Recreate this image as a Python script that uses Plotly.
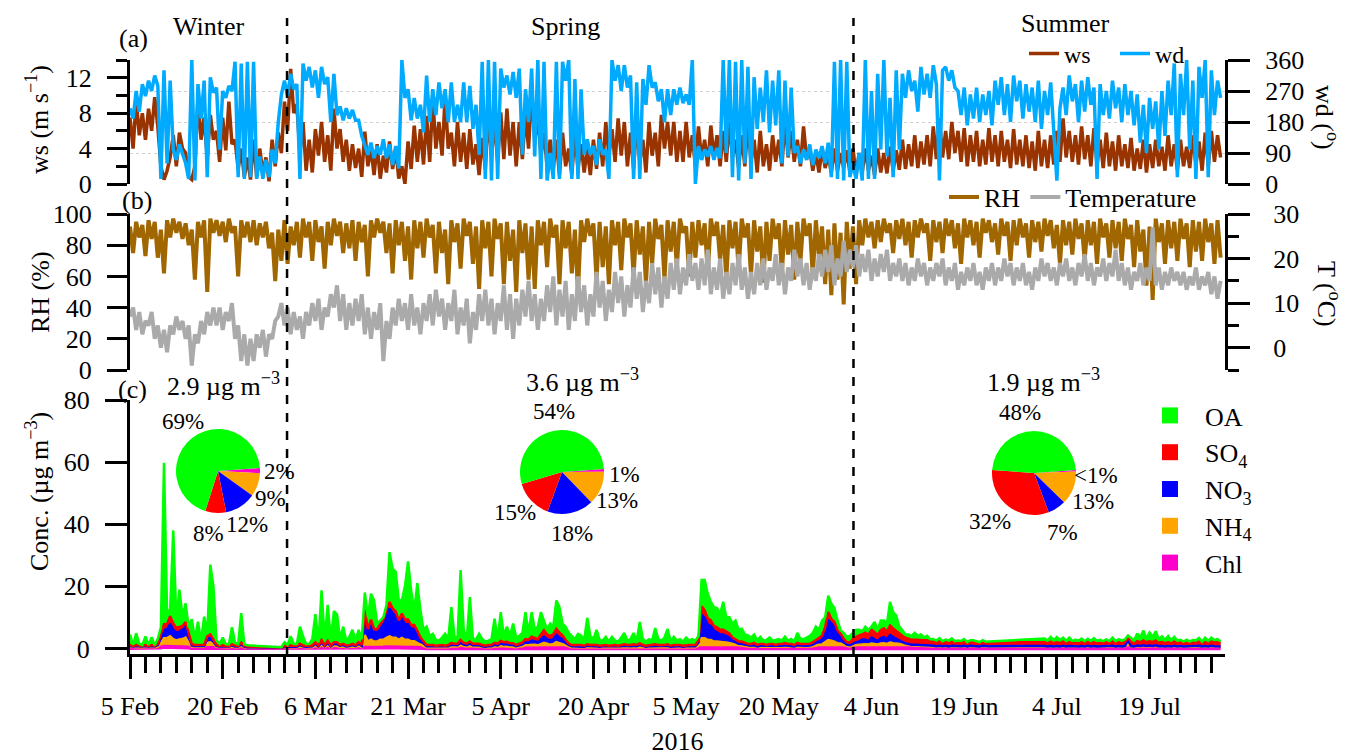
import pandas as pd
import plotly.graph_objects as go

# ---------------- data (12-hourly, from 5 Feb 2016 00:00) ----------------
start_time = '2016-02-05 00:00'
n_points = 354

ws = [
 7.5,4.0, 9.5,5.5, 8.0,5.0, 8.5,6.0, 9.8,6.5, 2.0,0.5, 1.5,3.0, 5.5,2.0, 5.8,4.0, 3.5,0.8,
 0.5,2.0, 9.7,5.0, 7.5,3.0, 7.8,5.0, 6.0,2.5, 7.5,3.8, 9.3,4.5, 5.0,1.7, 4.0,0.8, 3.0,0.5,
 5.0,0.8, 4.0,1.2, 3.0,0.3, 5.0,2.0, 5.8,3.5, 9.3,6.0, 13.0,8.0, 9.0,3.5, 7.0,1.5, 5.0,1.3,
 6.2,3.2, 7.0,2.5, 5.5,1.5, 8.5,4.0, 6.2,2.5, 5.0,1.5, 4.5,1.8, 4.0,0.8, 5.9,2.0, 4.0,1.0,
 4.5,0.6, 3.2,1.3, 4.8,1.7, 4.0,0.6, 2.0,0.0, 4.8,1.7, 6.6,2.5, 6.2,2.2, 7.7,2.5, 9.7,4.0,
 7.0,3.2, 9.8,4.0, 5.8,2.0, 7.0,2.5, 5.8,1.7, 6.2,2.2, 4.5,1.0, 5.2,1.7, 7.8,3.2, 7.0,2.5,
 8.1,2.8, 8.5,3.2, 7.0,2.0, 7.0,2.8, 8.0,4.0, 10.6,5.0, 7.5,3.2, 5.8,2.0, 5.0,1.7, 5.0,1.0,
 5.8,2.0, 4.0,1.0, 5.8,1.7, 4.5,1.3, 4.0,1.0, 5.0,1.7, 5.8,2.0, 7.0,3.2, 6.2,2.5, 7.4,3.2,
 7.0,2.0, 5.8,1.7, 7.0,2.5, 5.0,1.3, 7.0,3.2, 5.8,2.0, 7.8,4.0, 7.0,3.2, 7.0,2.5, 6.0,2.5,
 7.0,3.0, 5.5,2.0, 6.5,2.8, 5.0,2.0, 6.6,3.0, 5.5,2.0, 6.0,2.5, 7.0,3.0, 5.0,1.8, 5.5,2.0,
 7.0,2.5, 5.0,1.3, 6.0,2.0, 4.5,1.5, 5.5,2.5, 5.0,2.0, 7.2,3.0, 6.0,2.5, 5.0,2.0, 6.5,2.8,
 4.0,1.5, 3.5,1.3, 4.0,1.8, 3.2,1.3, 4.0,1.5, 3.5,1.8, 3.8,1.3, 4.0,1.0, 3.5,1.3, 4.0,1.5,
 3.2,1.0, 4.0,1.3, 3.5,1.2, 4.2,1.5, 3.8,1.6, 5.0,1.7, 4.5,2.0, 5.5,1.8, 4.8,2.2, 5.5,2.0,
 6.5,2.8, 7.4,3.0, 6.0,2.8, 7.0,3.5, 6.0,2.5, 6.3,2.0, 5.5,2.5, 6.0,2.0, 5.0,2.2, 6.3,2.5,
 5.5,2.0, 6.0,2.5, 5.0,1.8, 6.2,2.2, 5.0,2.0, 5.5,1.8, 4.8,1.5, 6.0,2.0, 5.0,1.8, 5.5,2.2,
 6.0,2.5, 7.4,3.0, 6.0,2.5, 5.5,2.2, 6.5,2.8, 5.5,2.0, 6.3,2.2, 5.0,1.8, 5.8,2.0, 4.8,1.5,
 5.5,2.0, 4.5,1.8, 5.2,1.5, 4.0,1.7, 5.0,1.3, 4.5,1.8, 5.0,2.0, 4.2,1.5, 5.5,2.0, 4.5,1.6,
 5.0,2.0, 4.2,1.8, 5.5,2.2, 4.8,1.5, 5.8,2.0, 6.0,2.5, 5.5,3.0,
]

wd = [
 220,190, 270,210, 290,255, 300,270, 315,285, 15,330, 60,300, 100,70, 115,85, 60,15,
 360,10, 290,190, 300,20, 310,265, 280,100, 270,250, 285,270, 355,20, 350,15, 355,20,
 355,15, 80,15, 70,20, 100,60, 180,260, 300,255, 320,275, 290,15, 350,300, 340,280,
 330,250, 340,290, 310,180, 320,200, 225,185, 220,190, 215,185, 185,140, 115,85, 120,75,
 110,85, 130,75, 115,55, 110,45, 360,250, 275,185, 250,190, 230,150, 315,180, 275,200,
 295,220, 275,180, 295,180, 230,180, 295,180, 285,160, 230,85, 355,15, 360,10, 355,15,
 335,280, 315,260, 325,250, 335,85, 275,180, 335,80, 360,15, 355,10, 90,15, 355,15,
 355,300, 360,15, 305,15, 275,85, 130,85, 110,55, 130,85, 100,15, 360,300, 345,270,
 345,280, 315,15, 295,15, 305,230, 345,280, 295,240, 275,180, 275,200, 275,230, 280,235,
 260,230, 360,0, 110,70, 100,80, 110,70, 105,75, 360,90, 360,20, 355,10, 360,60,
 340,15, 310,160, 280,180, 330,150, 300,170, 330,60, 300,80, 280,90, 110,60, 100,70,
 115,55, 100,75, 110,60, 120,20, 355,15, 360,10, 355,20, 60,15, 90,10, 360,15,
 270,15, 320,100, 360,80, 250,20, 330,100, 320,250, 330,270, 300,210, 340,260, 320,250,
 345,290, 10,330, 340,300, 330,280, 270,200, 280,170, 260,190, 280,180, 260,200, 270,170,
 300,230, 310,200, 290,180, 315,240, 300,190, 290,210, 280,180, 300,160, 270,200, 295,170,
 10,220, 280,200, 315,240, 290,180, 300,210, 310,230, 280,15, 290,200, 270,190, 300,220,
 280,180, 290,200, 270,170, 260,120, 230,90, 250,160, 240,100, 270,140, 300,200, 350,20,
 320,200, 360,100, 300,15, 340,250, 360,20, 330,200, 300,250,
]

rh = [
 92,75, 95,85, 93,73, 96,84, 95,72, 90,62, 96,85, 97,88, 95,84, 94,80,
 90,58, 95,85, 96,50, 97,88, 96,86, 95,82, 97,88, 92,60, 96,85, 95,82,
 96,80, 94,85, 95,78, 88,57, 90,70, 96,68, 92,80, 95,72, 97,85, 95,70,
 96,82, 92,65, 95,80, 97,86, 95,75, 94,78, 96,70, 95,82, 93,60, 96,85,
 97,88, 95,75, 94,62, 96,80, 95,70, 92,58, 96,78, 95,72, 97,85, 93,62,
 95,75, 90,55, 96,82, 94,65, 97,86, 95,68, 92,52, 96,78, 95,60, 97,84,
 94,55, 95,70, 90,50, 96,75, 94,58, 92,52, 96,80, 95,66, 97,85, 93,55,
 96,78, 95,62, 90,50, 96,82, 97,86, 94,58, 95,66, 92,55, 96,80, 95,64,
 97,85, 94,60, 96,74, 92,55, 95,68, 97,84, 93,58, 96,76, 95,66, 97,88,
 92,60, 95,72, 96,80, 94,62, 97,86, 95,70, 93,58, 96,78, 95,64, 97,85,
 94,60, 96,76, 92,56, 95,70, 97,84, 94,62, 96,74, 93,58, 95,70, 97,86,
 94,60, 96,72, 92,55, 90,48, 94,58, 88,42, 95,65, 92,55, 96,80, 97,85,
 95,78, 96,82, 97,88, 94,75, 96,84, 97,80, 95,72, 96,85, 97,88, 94,70,
 96,82, 95,75, 97,86, 96,78, 94,68, 97,85, 96,80, 95,72, 97,88, 96,82,
 94,74, 97,86, 95,70, 96,80, 97,85, 94,72, 96,82, 95,76, 97,86, 96,78,
 93,68, 96,80, 95,74, 97,84, 94,70, 96,80, 95,68, 97,85, 94,72, 96,78,
 95,70, 97,84, 93,66, 96,76, 90,54, 92,45, 97,82, 94,68, 96,78, 95,70,
 97,84, 94,66, 96,76, 95,70, 97,82, 94,68, 96,72,
]

temperature = [
 7,9, 4,8, 3,6, 5,8, 2,5, 0,4, -1,5, 3,7, 4,6, 2,5,
 -4,3, 1,6, 3,8, 5,9, 5,9, 4,8, 6,10, 2,5, -3,3, -4,2,
 -3,3, 0,4, -2,3, 2,6, 7,10, 5,9, 3,8, 4,7, 2,8, 5,10,
 6,11, 4,9, 7,12, 9,14, 6,12, 4,10, 5,11, 6,12, 3,9, 2,8,
 4,10, -3,6, 2,9, 5,11, 6,10, 4,12, 5,9, 3,10, 6,12, 5,13,
 7,11, 4,10, 6,13, 3,9, 5,11, 1,8, 4,12, 6,13, 5,11, 3,10,
 6,14, 4,12, 2,11, 5,13, 7,15, 6,12, 4,11, 6,14, 8,16, 5,13,
 7,15, 4,12, 6,16, 8,14, 5,12, 7,17, 9,15, 6,13, 8,17, 10,16,
 7,14, 9,18, 11,17, 8,15, 10,19, 12,18, 9,16, 11,19, 13,20, 12,18,
 14,21, 15,19, 13,20, 14,22, 12,18, 13,20, 11,17, 12,19, 14,21, 13,18,
 11,17, 12,19, 14,20, 13,18, 15,21, 14,19, 12,18, 15,22, 16,20, 14,19,
 13,18, 15,21, 16,22, 17,23, 14,20, 16,24, 17,22, 18,23, 16,21, 17,22,
 15,20, 16,21, 17,22, 15,19, 16,20, 15,19, 14,18, 15,20, 16,19, 14,18,
 15,19, 16,20, 14,18, 15,19, 13,17, 14,18, 15,19, 14,17, 13,18, 15,19,
 14,18, 15,20, 16,19, 14,18, 15,19, 14,17, 13,18, 15,20, 16,19, 15,18,
 14,19, 16,20, 15,18, 14,19, 16,21, 15,19, 14,18, 16,20, 15,19, 16,22,
 15,19, 14,18, 13,17, 15,19, 14,18, 15,27, 14,18, 13,17, 14,18, 15,17,
 14,17, 13,16, 14,18, 13,16, 14,17, 12,16, 11,15,
]

N = None
oa = [
 3.4,0.3, 3.8,0.6, 0.3,2.8, 0.3,2.5, 0.2,1.6, 2.5,52.0, 4.0,2.0, 30.0,3.0, 12.0,3.0, 6.0,2.0,
 8.0,2.0, 7.5,1.5, 9.0,1.2, 22.5,17.2, 1.5,0.6, 2.5,0.6, 0.5,5.5, 1.0,0.6, 9.5,0.5, 0.4,N,
 N,N, N,N, N,N, N,N, N,0.1, 1.2,0.4, 3.0,0.6, 0.6,5.5, 3.0,0.6, 0.6,2.0,
 9.0,1.0, 16.0,2.0, 11.5,2.0, 10.0,9.0, 1.8,5.5, 1.5,2.7, 4.5,1.5, 4.0,1.8, 5.7,3.8, 8.3,9.3,
 1.8,1.0, 0.7,1.6, 16.1,12.8, 12.8,6.5, 4.3,10.7, 18.7,11.2, 4.5,15.3, 8.8,3.7, 5.9,2.9, 3.6,1.9,
 1.4,2.4, 3.9,1.9, 11.5,2.5, 1.5,22.5, 4.2,1.5, 14.3,1.5, 1.5,3.2, 1.9,1.4, 1.4,1.9, 7.8,1.5,
 9.3,2.0, 4.9,2.3, 6.3,2.4, 2.5,3.1, 8.7,2.2, 7.9,2.5, 4.0,7.2, 3.2,1.5, 4.0,2.5, 9.2,8.2,
 3.8,4.3, 3.4,2.9, 1.9,3.6, 3.1,1.9, 8.5,2.9, 1.9,4.9, 1.9,1.4, 2.6,1.4, 2.6,1.4, 1.4,2.4,
 3.6,1.4, 1.9,3.6, 1.4,6.9, 1.9,1.4, 1.9,1.4, 5.2,1.9, 1.4,2.4, 4.9,1.4, 2.6,1.4, 1.9,1.4,
 2.4,1.4, 1.9,1.4, 1.3,8.4, 9.7,7.9, 6.0,6.1, 6.2,5.0, 9.0,4.5, 5.2,4.5, 6.2,3.7, 4.1,2.6,
 2.75,2.05, 2.75,1.55, 2.25,1.05, 1.55,2.05, 1.05,1.55, 1.55,1.05, 2.05,1.05, 1.55,1.05, 3.25,1.55, 1.55,2.05,
 2.5,3.0, 4.2,2.4, 4.9,3.2, 5.3,4.9, 4.5,3.2, 1.0,1.9, 1.65,2.15, 1.95,2.25, 1.75,0.85, 1.95,1.75,
 0.95,3.25, 1.75,3.15, 2.55,2.55, 7.65,5.25, 5.05,2.25, 1.75,1.05, 1.35,1.25, 2.25,1.35, 1.8,0.9, 1.4,0.6,
 0.9,0.6, 1.0,0.4, 0.7,0.8, 1.1,0.4, 0.6,0.5, 0.9,0.3, 0.5,0.7, 0.4,0.3, 0.5,0.2, 0.3,N,
 N,N, N,N, N,N, N,N, N,N, N,N, N,N, N,N, 1.2,0.8, 1.6,0.9,
 1.7,1.0, 1.3,0.8, 1.5,0.7, 1.0,0.9, 1.2,0.6, 0.9,0.7, 1.3,0.8, 1.0,0.6, 0.9,0.7, 1.3,0.6,
 1.0,0.8, 0.9,0.5, 1.2,0.8, 2.5,1.5, 3.2,1.2, 2.8,1.6, 3.0,1.0, 1.8,1.0, 2.0,0.8, 1.5,0.9,
 0.8,0.5, 1.0,0.6, 0.7,0.9, 1.2,0.5, 1.5,0.7, 1.3,0.8, 1.0,0.6,
]

so4 = [
 0.3,0.2, 0.3,0.3, 0.2,0.3, 0.2,0.3, 0.2,0.4, 1.0,2.0, 1.5,2.5, 2.0,1.5, 1.5,1.2, 1.5,1.0,
 0.4,0.3, 0.3,0.3, 0.4,0.8, 1.0,0.6, 0.3,0.2, 0.3,0.2, 0.2,0.4, 0.3,0.2, 0.6,0.2, 0.2,N,
 N,N, N,N, N,N, N,N, N,0.1, 0.2,0.2, 0.3,0.3, 0.3,0.4, 0.3,0.3, 0.3,0.3,
 0.5,0.3, 0.8,0.3, 0.7,0.3, 0.6,0.6, 0.3,0.4, 0.3,0.3, 0.4,0.3, 0.5,0.3, 2.0,1.0, 1.5,1.0,
 1.0,1.2, 1.5,2.0, 2.0,1.5, 1.5,1.2, 1.8,1.5, 1.5,1.2, 1.2,1.0, 0.8,0.6, 0.4,0.4, 0.4,0.3,
 0.4,0.4, 0.3,0.4, 0.6,0.5, 0.5,0.9, 0.6,0.5, 0.7,0.5, 0.5,0.5, 0.4,0.3, 0.4,0.4, 0.6,0.5,
 0.8,0.7, 0.7,0.6, 0.6,0.4, 0.5,0.6, 1.0,0.9, 1.2,1.1, 1.0,1.5, 2.0,1.5, 1.4,1.5, 2.0,1.6,
 1.3,0.9, 0.5,0.4, 0.4,0.4, 0.4,0.3, 0.5,0.4, 0.4,0.4, 0.3,0.4, 0.4,0.3, 0.4,0.4, 0.3,0.4,
 0.5,0.4, 0.4,0.5, 0.4,0.6, 0.4,0.3, 0.4,0.4, 0.5,0.4, 0.4,0.4, 0.5,0.3, 0.4,0.4, 0.4,0.3,
 0.4,0.4, 0.4,0.4, 0.8,2.8, 2.5,2.0, 1.8,1.5, 1.6,1.5, 1.5,1.4, 1.3,1.0, 0.9,0.8, 0.8,0.7,
 0.6,0.6, 0.7,0.5, 0.6,0.6, 0.5,0.6, 0.6,0.5, 0.6,0.6, 0.7,0.6, 0.6,0.5, 0.7,0.6, 0.6,0.6,
 0.6,0.8, 1.0,1.2, 1.3,1.8, 2.5,1.5, 1.3,1.2, 1.2,1.0, 0.8,0.8, 1.5,1.8, 2.0,1.8, 2.2,2.0,
 2.5,2.3, 2.0,2.5, 2.8,2.5, 3.0,2.8, 2.5,2.2, 2.0,1.8, 1.8,1.6, 1.6,1.5, 1.6,1.5, 1.5,1.4,
 1.3,1.2, 1.4,1.2, 1.3,1.1, 1.3,1.2, 1.2,1.2, 1.3,1.1, 1.3,1.2, 1.2,1.1, 1.3,1.2, 1.2,N,
 N,N, N,N, N,N, N,N, N,N, N,N, N,N, N,N, 1.2,1.1, 1.3,1.1,
 1.2,1.1, 1.3,1.0, 1.2,1.1, 1.1,1.0, 1.2,1.1, 1.3,1.1, 1.2,1.0, 1.1,1.1, 1.2,1.0, 1.3,1.1,
 1.2,1.1, 1.2,1.0, 1.2,1.1, 1.4,1.2, 1.5,1.2, 1.4,1.3, 1.5,1.2, 1.3,1.1, 1.2,1.1, 1.3,1.0,
 1.2,1.1, 1.1,1.0, 1.2,1.1, 1.3,1.0, 1.2,1.1, 1.3,1.2, 1.2,1.1,
]

no3 = [
 0.3,0.2, 0.3,0.2, 0.2,0.3, 0.2,0.3, 0.2,0.5, 1.5,2.5, 3.0,4.0, 3.0,2.5, 2.5,3.0, 3.5,2.0,
 0.4,0.3, 0.3,0.3, 0.3,1.3, 1.5,0.8, 0.3,0.2, 0.2,0.2, 0.2,0.3, 0.2,0.2, 0.4,0.2, 0.1,N,
 N,N, N,N, N,N, N,N, N,0.05, 0.2,0.2, 0.3,0.2, 0.2,0.5, 0.3,0.2, 0.2,0.3,
 0.6,0.3, 0.8,0.3, 0.7,0.3, 0.5,0.6, 0.4,0.5, 0.3,0.3, 0.5,0.3, 0.6,0.4, 6.0,3.0, 5.0,3.0,
 3.0,4.0, 5.0,7.0, 9.0,8.0, 7.0,5.0, 6.0,5.0, 5.0,4.0, 4.0,3.0, 1.5,0.8, 0.3,0.3, 0.3,0.2,
 0.3,0.3, 0.2,0.3, 0.5,0.4, 0.4,0.8, 0.5,0.4, 0.7,0.4, 0.4,0.4, 0.3,0.2, 0.3,0.3, 0.5,0.4,
 0.8,0.6, 0.7,0.5, 0.5,0.3, 0.4,0.6, 0.9,0.8, 1.3,1.2, 1.0,1.5, 2.0,1.5, 1.4,1.6, 2.3,1.8,
 1.5,0.9, 0.5,0.3, 0.3,0.3, 0.3,0.2, 0.4,0.3, 0.3,0.3, 0.2,0.3, 0.3,0.2, 0.3,0.3, 0.2,0.3,
 0.4,0.3, 0.3,0.4, 0.3,0.5, 0.3,0.2, 0.3,0.3, 0.4,0.3, 0.3,0.3, 0.4,0.2, 0.3,0.3, 0.3,0.2,
 0.3,0.3, 0.3,0.3, 1.0,7.5, 6.5,5.0, 4.5,3.5, 3.0,2.5, 2.5,2.2, 1.8,1.2, 0.8,0.6, 0.5,0.4,
 0.3,0.3, 0.4,0.2, 0.3,0.3, 0.2,0.3, 0.3,0.2, 0.3,0.3, 0.4,0.3, 0.3,0.2, 0.4,0.3, 0.3,0.3,
 0.3,0.5, 0.8,1.2, 1.5,3.0, 6.5,5.5, 5.0,3.0, 2.0,1.0, 0.5,0.4, 0.5,0.8, 1.0,1.5, 1.5,1.0,
 2.0,1.5, 1.0,1.8, 2.0,1.5, 2.5,2.0, 1.5,1.2, 0.8,0.6, 0.4,0.3, 0.3,0.3, 0.3,0.3, 0.3,0.2,
 0.2,0.15, 0.2,0.15, 0.2,0.1, 0.2,0.15, 0.15,0.15, 0.2,0.1, 0.2,0.15, 0.15,0.1, 0.2,0.15, 0.15,N,
 N,N, N,N, N,N, N,N, N,N, N,N, N,N, N,N, 0.15,0.1, 0.15,0.1,
 0.15,0.1, 0.2,0.1, 0.15,0.1, 0.1,0.1, 0.15,0.1, 0.2,0.1, 0.15,0.1, 0.1,0.1, 0.15,0.1, 0.2,0.1,
 0.15,0.1, 0.15,0.1, 0.15,0.1, 0.2,0.15, 0.25,0.15, 0.2,0.15, 0.25,0.1, 0.15,0.1, 0.15,0.1, 0.2,0.1,
 0.15,0.1, 0.1,0.1, 0.15,0.1, 0.2,0.1, 0.15,0.1, 0.2,0.15, 0.15,0.1,
]

nh4 = [
 0.4,0.3, 0.4,0.3, 0.3,0.4, 0.3,0.4, 0.3,0.5, 1.5,2.8, 2.8,3.3, 2.5,2.2, 2.5,2.5, 3.0,1.5,
 0.5,0.4, 0.4,0.4, 0.4,1.5, 1.7,1.2, 0.4,0.3, 0.4,0.3, 0.3,0.5, 0.3,0.3, 0.8,0.3, 0.2,N,
 N,N, N,N, N,N, N,N, N,0.1, 0.3,0.3, 0.3,0.3, 0.3,0.5, 0.3,0.3, 0.3,0.3,
 0.8,0.3, 1.0,0.4, 1.0,0.3, 0.8,0.7, 0.4,0.5, 0.3,0.4, 0.5,0.4, 0.8,0.4, 4.0,2.0, 2.5,2.0,
 2.0,2.5, 2.5,3.0, 3.5,3.0, 3.0,2.5, 3.0,2.5, 2.5,2.0, 2.0,1.5, 1.0,0.8, 0.35,0.35, 0.35,0.3,
 0.35,0.35, 0.3,0.35, 0.6,0.5, 0.5,0.9, 0.6,0.5, 0.7,0.5, 0.5,0.5, 0.35,0.3, 0.35,0.35, 0.6,0.5,
 0.7,0.6, 0.6,0.5, 0.5,0.35, 0.5,0.6, 1.0,1.0, 1.2,1.1, 0.9,1.4, 1.6,1.4, 1.1,1.3, 1.8,1.6,
 1.3,0.8, 0.5,0.35, 0.35,0.35, 0.35,0.3, 0.4,0.35, 0.35,0.35, 0.3,0.35, 0.35,0.3, 0.35,0.35, 0.3,0.35,
 0.4,0.35, 0.35,0.4, 0.35,0.5, 0.35,0.3, 0.35,0.35, 0.4,0.35, 0.35,0.35, 0.4,0.3, 0.35,0.35, 0.35,0.3,
 0.35,0.35, 0.35,0.35, 0.8,3.0, 3.0,2.5, 2.5,2.0, 2.0,1.8, 1.8,1.7, 1.6,1.2, 1.0,0.8, 0.8,0.7,
 0.5,0.5, 0.6,0.4, 0.5,0.5, 0.4,0.5, 0.5,0.4, 0.5,0.5, 0.6,0.5, 0.5,0.4, 0.6,0.5, 0.5,0.5,
 0.5,0.6, 0.9,1.1, 1.2,1.8, 2.5,2.3, 2.0,1.5, 1.5,1.0, 0.7,0.6, 1.0,1.1, 1.2,1.3, 1.3,1.2,
 1.5,1.4, 1.2,1.5, 1.6,1.4, 1.8,1.6, 1.5,1.3, 1.2,1.0, 0.9,0.8, 0.8,0.8, 0.8,0.8, 0.8,0.7,
 0.6,0.55, 0.65,0.55, 0.6,0.5, 0.6,0.55, 0.55,0.55, 0.6,0.5, 0.6,0.55, 0.55,0.5, 0.6,0.55, 0.55,N,
 N,N, N,N, N,N, N,N, N,N, N,N, N,N, N,N, 0.6,0.5, 0.6,0.5,
 0.6,0.5, 0.65,0.5, 0.6,0.5, 0.55,0.5, 0.6,0.5, 0.65,0.5, 0.6,0.5, 0.55,0.5, 0.6,0.5, 0.65,0.5,
 0.6,0.5, 0.6,2.5, 0.6,0.5, 0.7,0.6, 0.75,0.6, 0.7,0.6, 0.75,0.55, 0.6,0.5, 0.6,0.5, 0.65,0.5,
 0.6,0.5, 0.55,0.5, 0.6,0.5, 0.65,0.5, 0.6,0.5, 0.65,0.55, 0.6,0.5,
]

chl = [
 0.1,0.1, 0.1,0.1, 0.1,0.1, 0.1,0.1, 0.1,0.1, 0.3,0.5, 0.5,0.6, 0.5,0.4, 0.4,0.5, 0.5,0.3,
 0.1,0.1, 0.1,0.1, 0.1,0.3, 0.3,0.2, 0.1,0.1, 0.1,0.1, 0.1,0.1, 0.1,0.1, 0.1,0.1, 0.1,N,
 N,N, N,N, N,N, N,N, N,0.05, 0.05,0.05, 0.05,0.05, 0.05,0.1, 0.05,0.05, 0.05,0.05,
 0.1,0.05, 0.1,0.05, 0.1,0.05, 0.1,0.1, 0.05,0.1, 0.05,0.05, 0.1,0.05, 0.1,0.05, 0.3,0.2, 0.3,0.2,
 0.2,0.3, 0.3,0.4, 0.4,0.4, 0.4,0.3, 0.4,0.3, 0.3,0.3, 0.3,0.2, 0.2,0.1, 0.05,0.05, 0.05,0.05,
 0.05,0.05, 0.05,0.05, 0.1,0.1, 0.1,0.1, 0.1,0.1, 0.1,0.1, 0.1,0.1, 0.05,0.05, 0.05,0.05, 0.1,0.1,
 0.1,0.1, 0.1,0.1, 0.1,0.05, 0.1,0.1, 0.1,0.1, 0.1,0.1, 0.1,0.1, 0.2,0.1, 0.1,0.1, 0.2,0.1,
 0.1,0.1, 0.1,0.05, 0.05,0.05, 0.05,0.05, 0.05,0.05, 0.05,0.05, 0.05,0.05, 0.05,0.05, 0.05,0.05, 0.05,0.05,
 0.05,0.05, 0.05,0.05, 0.05,0.05, 0.05,0.05, 0.05,0.05, 0.05,0.05, 0.05,0.05, 0.05,0.05, 0.05,0.05, 0.05,0.05,
 0.05,0.05, 0.05,0.05, 0.1,0.3, 0.3,0.2, 0.2,0.2, 0.2,0.2, 0.2,0.2, 0.1,0.1, 0.1,0.1, 0.1,0.1,
 0.05,0.05, 0.05,0.05, 0.05,0.05, 0.05,0.05, 0.05,0.05, 0.05,0.05, 0.05,0.05, 0.05,0.05, 0.05,0.05, 0.05,0.05,
 0.1,0.1, 0.1,0.1, 0.1,0.2, 0.2,0.2, 0.2,0.1, 0.1,0.1, 0.05,0.05, 0.05,0.05, 0.05,0.05, 0.05,0.05,
 0.05,0.05, 0.05,0.05, 0.05,0.05, 0.05,0.05, 0.05,0.05, 0.05,0.05, 0.05,0.05, 0.05,0.05, 0.05,0.05, 0.05,0.05,
 0.03,0.03, 0.03,0.03, 0.03,0.03, 0.03,0.03, 0.03,0.03, 0.03,0.03, 0.03,0.03, 0.03,0.03, 0.03,0.03, 0.03,N,
 N,N, N,N, N,N, N,N, N,N, N,N, N,N, N,N, 0.03,0.03, 0.03,0.03,
 0.03,0.03, 0.03,0.03, 0.03,0.03, 0.03,0.03, 0.03,0.03, 0.03,0.03, 0.03,0.03, 0.03,0.03, 0.03,0.03, 0.03,0.03,
 0.03,0.03, 0.03,0.03, 0.03,0.03, 0.03,0.03, 0.03,0.03, 0.03,0.03, 0.03,0.03, 0.03,0.03, 0.03,0.03, 0.03,0.03,
 0.03,0.03, 0.03,0.03, 0.03,0.03, 0.03,0.03, 0.03,0.03, 0.03,0.03, 0.03,0.03,
]

species = ['OA', 'SO<sub>4</sub>', 'NO<sub>3</sub>', 'NH<sub>4</sub>', 'Chl']
species_plain = ['OA', 'SO4', 'NO3', 'NH4', 'Chl']
species_colors = ['#00FF00', '#FF0000', '#0000FF', '#FFA500', '#FF00CC']

seasons = ['Winter', 'Spring', 'Summer']
season_bounds = ['2016-03-01 10:00', '2016-06-01 02:00']
season_mass = ['2.9', '3.6', '1.9']
pie_winter = [69, 8, 12, 9, 2]
pie_spring = [54, 15, 18, 13, 1]
pie_summer = [48, 32, 7, 13, 0.5]
pct_winter = ['69%', '8%', '12%', '9%', '2%']
pct_spring = ['54%', '15%', '18%', '13%', '1%']
pct_summer = ['48%', '32%', '7%', '13%', '<1%']

# ---------------- checks ----------------
for nm, arr in [('ws', ws), ('wd', wd), ('rh', rh), ('temperature', temperature), ('oa', oa),
                ('so4', so4), ('no3', no3), ('nh4', nh4), ('chl', chl)]:
    if len(arr) != n_points:
        raise SystemExit(f'{nm} has {len(arr)} values')

times = pd.date_range(start_time, periods=n_points, freq='12h')
valid = [i for i, v in enumerate(oa) if v is not None]
x_c = [times[i] for i in valid]

# ---------------- geometry helpers (pixel -> paper) ----------------
W, H = 1348, 756
L, R, T, B = 130, 1225, 20, 654
def px_x(x):
    return (x - L) / (R - L)
def px_y(y):
    return (B - y) / (B - T)

FONT = 'Liberation Serif'
FS = 26
DAY = 86400000

C_WS, C_WD, C_RH, C_T = '#993300', '#00AAFF', '#A06600', '#AAAAAA'

fig = go.Figure()
fig.add_trace(go.Scatter(x=times, y=ws, name='ws', mode='lines', line=dict(color=C_WS, width=3.5),
                         xaxis='x', yaxis='y', legend='legend'))
fig.add_trace(go.Scatter(x=times, y=wd, name='wd', mode='lines', line=dict(color=C_WD, width=3.5),
                         xaxis='x', yaxis='y2', legend='legend'))
fig.add_trace(go.Scatter(x=times, y=rh, name='RH', mode='lines', line=dict(color=C_RH, width=4),
                         xaxis='x', yaxis='y3', legend='legend2'))
fig.add_trace(go.Scatter(x=times, y=temperature, name='Temperature', mode='lines',
                         line=dict(color=C_T, width=4), xaxis='x', yaxis='y4', legend='legend2'))

stack = [(chl, 4, '#FF00CC'), (nh4, 2.5, '#FFA500'), (no3, 2.5, '#0000FF'),
         (so4, 2.5, '#FF0000'), (oa, 2.5, '#00FF00')]
for vals, lw, col in stack:
    fig.add_trace(go.Scatter(x=x_c, y=[vals[i] for i in valid], mode='lines', stackgroup='conc',
                             line=dict(color=col, width=lw), fillcolor=col, showlegend=False,
                             xaxis='x', yaxis='y5', hoverinfo='skip'))

for nm, col in zip(species, species_colors):
    fig.add_trace(go.Scatter(x=[None], y=[None], mode='markers', name=nm,
                             marker=dict(symbol='square', size=22, color=col),
                             xaxis='x', yaxis='y5', legend='legend3'))

# pies: drawn clockwise from 3 o'clock in reversed order, so OA runs counter-clockwise from 3 o'clock
pie_centers = [(218, 471), (562, 472), (1034, 473)]
pie_r = 42
for (cx, cy), vals in zip(pie_centers, [pie_winter, pie_spring, pie_summer]):
    fig.add_trace(go.Pie(values=vals[::-1], labels=species_plain[::-1],
                         marker=dict(colors=species_colors[::-1]), sort=False,
                         direction='clockwise', rotation=86, textinfo='none',
                         showlegend=False, hoverinfo='label+percent',
                         domain=dict(x=[px_x(cx - pie_r), px_x(cx + pie_r)],
                                     y=[px_y(cy + pie_r), px_y(cy - pie_r)])))

axis_common = dict(showline=True, linecolor='black', linewidth=3, ticks='outside',
                   tickcolor='black', tickwidth=2.5, ticklen=20, zeroline=False,
                   showgrid=False, tickfont=dict(size=FS, family=FONT, color='black'),
                   automargin=False)

annotations = []
def ann(text, x, y, size=FS, angle=0, xanchor='center'):
    annotations.append(dict(text=text, x=px_x(x), y=px_y(y), xref='paper', yref='paper',
                            showarrow=False, textangle=angle, xanchor=xanchor, yanchor='middle',
                            font=dict(size=size, family=FONT, color='black')))

ann('(a)', 133, 38)
ann('(b)', 137, 200)
ann('(c)', 132, 390)
ann(seasons[0], 208, 26)
ann(seasons[1], 565, 26)
ann(seasons[2], 1065, 24)
ann('ws (m s<sup>−1</sup>)', 37, 120, angle=-90)
ann('RH (%)', 40, 292, angle=-90)
ann('Conc. (µg m<sup>−3</sup>)', 37, 492, angle=-90)
ann('wd (<sup>o</sup>)', 1327, 117, angle=90)
ann('T (<sup>o</sup>C)', 1329, 294, angle=90)
for m, (x, y) in zip(season_mass, [(223, 384), (582, 380), (1043, 380)]):
    ann(m + ' µg m<sup>−3</sup>', x, y)
pct_pos = {
    'w': [(183, 421), (208, 533), (247, 524), (270, 498), (279, 471)],
    's': [(554, 412), (515, 512), (572, 533), (617, 501), (624, 474)],
    'u': [(1020, 413), (990, 521), (1062, 532), (1093, 502), (1096, 475)],
}
for key, labels in [('w', pct_winter), ('s', pct_spring), ('u', pct_summer)]:
    for lab, (x, y) in zip(labels, pct_pos[key]):
        ann(lab, x, y, size=23)

shapes = []
for b in season_bounds:
    shapes.append(dict(type='line', xref='x', yref='paper', x0=b, x1=b,
                       y0=px_y(656), y1=px_y(18),
                       line=dict(color='black', width=2.5, dash='dash'), layer='above'))

fig.update_layout(
    width=W, height=H,
    margin=dict(l=L, r=W - R, t=T, b=H - B, pad=0),
    paper_bgcolor='white', plot_bgcolor='white',
    font=dict(family=FONT, size=FS, color='black'),
    showlegend=True,
    xaxis=dict(axis_common, type='date', domain=[0, 1], anchor='y5',
               range=['2016-02-05 00:00', '2016-07-31 05:00'],
               tick0='2016-02-05', dtick=15 * DAY, tickformat='%-d %b', ticklen=22,
               ticklabelstandoff=5,
               minor=dict(dtick=2.5 * DAY, tick0='2016-02-05', ticklen=16, tickwidth=2.5,
                          tickcolor='black', ticks='outside'),
               title=dict(text='2016', font=dict(size=FS, family=FONT), standoff=15)),
    yaxis=dict(axis_common, domain=[px_y(184), px_y(60)], anchor='x', range=[0, 14],
               dtick=4, ticklabelstandoff=10,
               minor=dict(dtick=2, ticklen=11, tickwidth=2.5, tickcolor='black', ticks='outside')),
    yaxis2=dict(axis_common, overlaying='y', side='right', anchor='x', range=[0, 360],
                dtick=90, ticklen=22, ticklabelstandoff=10, showgrid=True,
                gridcolor='#D0D0D0', griddash='dot', gridwidth=1),
    yaxis3=dict(axis_common, domain=[px_y(370), px_y(214)], anchor='x', range=[0, 100],
                dtick=20, ticklabelstandoff=10),
    yaxis4=dict(axis_common, overlaying='y3', side='right', anchor='x', range=[-5, 30],
                dtick=10, tick0=0, ticklen=22, ticklabelstandoff=18,
                minor=dict(dtick=5, ticklen=11, tickwidth=2.5, tickcolor='black', ticks='outside')),
    yaxis5=dict(axis_common, domain=[0, px_y(400)], anchor='x', range=[-1.8, 80],
                dtick=20, tick0=0, ticklen=22, ticklabelstandoff=10),
    legend=dict(orientation='h', x=px_x(1024), xanchor='left', y=px_y(54), yanchor='middle',
                traceorder='normal', entrywidth=46, entrywidthmode='pixels',
                bgcolor='rgba(0,0,0,0)', font=dict(size=24, family=FONT), itemclick=False),
    legend2=dict(orientation='h', x=px_x(944), xanchor='left', y=px_y(197), yanchor='middle',
                 traceorder='normal',
                 bgcolor='rgba(0,0,0,0)', font=dict(size=FS, family=FONT), itemclick=False),
    legend3=dict(orientation='v', x=px_x(1135), xanchor='left', y=px_y(392), yanchor='top',
                 traceorder='normal', itemwidth=60,
                 bgcolor='rgba(0,0,0,0)', font=dict(size=FS, family=FONT), itemclick=False),
    annotations=annotations,
    shapes=shapes,
)

fig.write_html('out.html', config={'displayModeBar': False})
